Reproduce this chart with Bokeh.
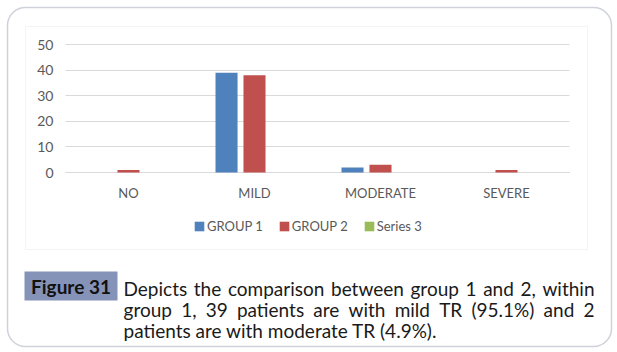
import glob
from bokeh.plotting import figure
from bokeh.models import (Range1d, Legend, LegendItem, BoxAnnotation, Label,
                          FixedTicker, ColumnDataSource)
from bokeh.embed import file_html
from bokeh.resources import INLINE

# ---------------- data ----------------
categories = ["NO", "MILD", "MODERATE", "SEVERE"]
group1 = [0, 39, 2, 0]
group2 = [1, 38, 3, 1]
series3 = [0, 0, 0, 0]
series_names = ["GROUP 1", "GROUP 2", "Series 3"]
y_ticks = [0, 10, 20, 30, 40, 50]
caption_tag = "Figure 31"
caption_lines = [
    "Depicts the comparison between group 1 and 2, within",
    "group 1, 39 patients are with mild TR (95.1%) and 2",
    "patients are with moderate TR (4.9%).",
]

# ---------------- layout constants (canvas pixels) ----------------
W, H = 617, 352
PLOT_L, PLOT_R = 65, 569      # chart area left/right
PLOT_T, PLOT_B = 44, 172      # y=50 and y=0 positions
FONT = "Lato"
LABEL_COLOR = "#595959"
GRID_COLOR = "#d9d9d9"
colors = ["#4f81bd", "#c0504d", "#9bbb59"]

n = len(categories)
y_max = y_ticks[-1]
px_x = (PLOT_R - PLOT_L) / n
px_y = (PLOT_B - PLOT_T) / y_max
x_lo, x_hi = 0.5, n + 0.5
x_range = Range1d(x_lo - PLOT_L / px_x, x_hi + (W - PLOT_R) / px_x)
y_range = Range1d(-(H - PLOT_B) / px_y, y_max + PLOT_T / px_y)

pos = list(range(1, n + 1))
series_values = [group1, group2, series3]

p = figure(width=W, height=H, x_range=x_range, y_range=y_range,
           output_backend="svg", toolbar_location=None, min_border=0)
p.outline_line_color = None
p.background_fill_color = "white"
p.border_fill_color = "white"
p.xgrid.visible = False
p.ygrid.visible = False

renderers = []
BAR_W = 0.175
OFF = 0.222
for vals, off, col in zip(series_values, [-OFF, 0.0, OFF], colors):
    src = ColumnDataSource(dict(x=[v + off for v in pos], top=vals))
    r = p.vbar(x="x", top="top", width=BAR_W, source=src,
               fill_color=col, line_color=None)
    renderers.append(r)

# y axis: its inward ticks act as the horizontal gridlines
yax = p.yaxis[0]
yax.fixed_location = x_lo
yax.ticker = FixedTicker(ticks=y_ticks)
yax.axis_line_color = None
yax.major_tick_in = int(round(PLOT_R - PLOT_L))
yax.major_tick_out = 0
yax.major_tick_line_color = GRID_COLOR
yax.major_tick_line_width = 1
yax.minor_tick_line_color = None
yax.major_label_standoff = 12
yax.major_label_text_font = FONT
yax.major_label_text_font_size = "14px"
yax.major_label_text_color = LABEL_COLOR
yax.level = "underlay"

xax = p.xaxis[0]
xax.fixed_location = 0
xax.bounds = (x_lo, x_hi)
xax.ticker = FixedTicker(ticks=pos)
xax.major_label_overrides = {i: c for i, c in zip(pos, categories)}
xax.axis_line_color = GRID_COLOR
xax.major_tick_line_color = None
xax.minor_tick_line_color = None
xax.major_tick_in = 0
xax.major_tick_out = 0
xax.major_label_standoff = 12
xax.major_label_text_font = FONT
xax.major_label_text_font_size = "13px"
xax.major_label_text_color = LABEL_COLOR
xax.level = "underlay"

legend = Legend(items=[LegendItem(label=nm, renderers=[r]) for nm, r in zip(series_names, renderers)],
                orientation="horizontal", location=(193, H - 236),
                glyph_width=12, glyph_height=12, label_standoff=2, spacing=15,
                padding=0, margin=0, border_line_color=None, background_fill_alpha=0,
                label_text_font=FONT, label_text_font_size="13px",
                label_text_color=LABEL_COLOR, label_height=20)
p.add_layout(legend, "center")


def box(l, r, t, b, **kw):
    return BoxAnnotation(left=l, right=r, top=H - t, bottom=H - b,
                         left_units="screen", right_units="screen",
                         top_units="screen", bottom_units="screen", **kw)


p.add_layout(box(7, 611, 7, 346, fill_alpha=0, line_color="#5f6a86",
                 line_width=1.5, border_radius=18))
p.add_layout(box(25, 587, 26, 249, fill_alpha=0, line_color=GRID_COLOR, line_width=1))
p.add_layout(box(24, 117, 271, 300, fill_color="#8593b8", fill_alpha=1, line_color=None))

p.add_layout(Label(x=70.5, y=H - 286, x_units="screen", y_units="screen", text=caption_tag,
                   text_font=FONT, text_font_style="bold", text_font_size="19px",
                   text_color="#111111", text_align="center", text_baseline="middle"))

# caption, justified
CAP_SIZE = 19
left_x, right_x = 123, 594
baselines = [288, 309, 330]

measure = None
try:
    from PIL import ImageFont
    paths = glob.glob("/usr/share/fonts/**/Lato-Regular.ttf", recursive=True)
    if paths:
        fnt = ImageFont.truetype(paths[0], CAP_SIZE)
        measure = lambda s: fnt.getlength(s)
except Exception:
    measure = None
if measure is None:
    measure = lambda s: len(s) * CAP_SIZE * 0.48

for i, line in enumerate(caption_lines):
    words = line.split()
    if i < len(caption_lines) - 1 and len(words) > 1:
        widths = [measure(w) for w in words]
        gap = (right_x - left_x - sum(widths)) / (len(words) - 1)
        x = left_x
        for w, wd in zip(words, widths):
            p.add_layout(Label(x=x, y=H - baselines[i], x_units="screen", y_units="screen",
                               text=w, text_font=FONT, text_font_size=f"{CAP_SIZE}px",
                               text_color="#1a1a1a", text_align="left",
                               text_baseline="alphabetic"))
            x += wd + gap
    else:
        p.add_layout(Label(x=left_x, y=H - baselines[i], x_units="screen", y_units="screen",
                           text=line, text_font=FONT, text_font_size=f"{CAP_SIZE}px",
                           text_color="#1a1a1a", text_align="left",
                           text_baseline="alphabetic"))

open("out.html", "w").write(file_html(p, INLINE))
